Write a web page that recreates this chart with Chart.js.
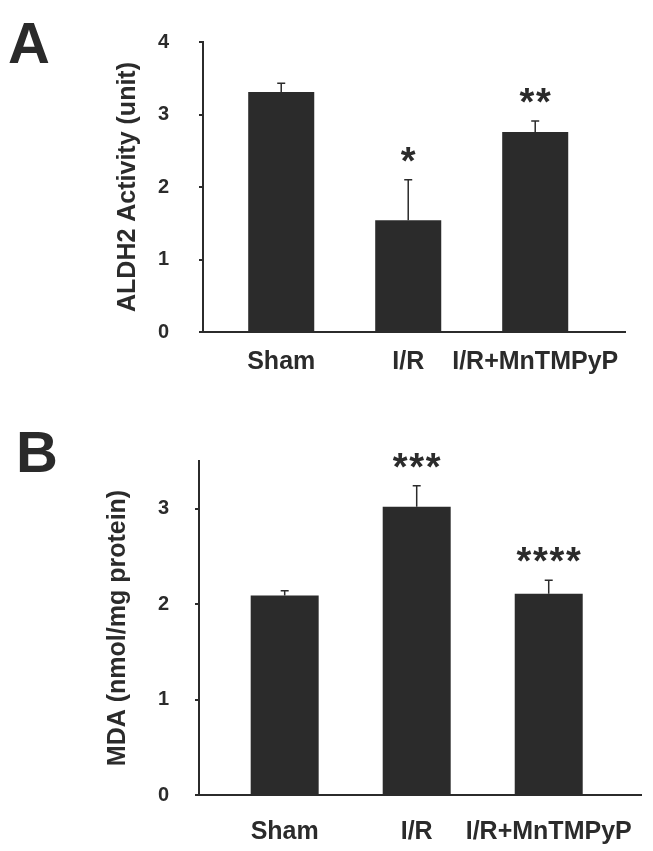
<!DOCTYPE html>
<html>
<head>
<meta charset="utf-8">
<script src="https://cdn.jsdelivr.net/npm/chart.js@4.4.1/dist/chart.umd.min.js"></script>
<style>
  html, body { margin: 0; padding: 0; background: #fff; }
  body { width: 653px; height: 851px; position: relative; overflow: hidden; font-family: 'Liberation Sans', Arial, sans-serif; }
  .panel { position: absolute; left: 0; width: 653px; }
  .letter { position: absolute; font-weight: bold; font-size: 58px; line-height: 1; color: #2a2a2a; }
</style>
</head>
<body>
<div class="letter" style="left:8px;top:14px">A</div>
<div class="letter" style="left:16px;top:423px">B</div>
<div class="panel" style="top:0;height:400px"><canvas id="chartA" width="653" height="400"></canvas></div>
<div class="panel" style="top:420px;height:431px"><canvas id="chartB" width="653" height="431"></canvas></div>
<script>
const categories = ['Sham', 'I/R', 'I/R+MnTMPyP'];

// panel A - ALDH2 activity
const aldh2Values = [3.31, 1.54, 2.76];
const aldh2Errors = [0.12, 0.56, 0.15];
const aldh2Marks = ['', '*', '**'];
const aldh2Max = 4;

// panel B - MDA
const mdaValues = [2.09, 3.02, 2.11];
const mdaErrors = [0.05, 0.22, 0.14];
const mdaMarks = ['', '***', '****'];
const mdaMax = 3.5;

const ink = '#2b2b2b';
const fontFamily = "'Liberation Sans', Arial, sans-serif";

// error bars (upper only) + significance stars
const errorBarPlugin = {
  id: 'errorBars',
  afterDatasetsDraw(chart, args, opts) {
    const ctx = chart.ctx;
    const yScale = chart.scales.y;
    const meta = chart.getDatasetMeta(0);
    ctx.save();
    ctx.strokeStyle = ink;
    ctx.fillStyle = ink;
    ctx.lineWidth = 1.5;
    meta.data.forEach((bar, i) => {
      const v = opts.values[i];
      const top = yScale.getPixelForValue(v + opts.errors[i]);
      const base = yScale.getPixelForValue(v);
      ctx.beginPath();
      ctx.moveTo(bar.x, base);
      ctx.lineTo(bar.x, top);
      ctx.moveTo(bar.x - 4, top);
      ctx.lineTo(bar.x + 4, top);
      ctx.stroke();

      const stars = opts.marks[i];
      if (stars) {
        ctx.font = 'bold 38px ' + fontFamily;
        ctx.textAlign = 'center';
        ctx.textBaseline = 'alphabetic';
        const n = stars.length;
        for (let k = 0; k < n; k++) {
          ctx.fillText('*', bar.x + (k - (n - 1) / 2) * 16.5, top - 6);
        }
      }
    });
    ctx.restore();
  }
};

function makeChart(id, cfg) {
  return new Chart(document.getElementById(id), {
    type: 'bar',
    data: {
      datasets: [{
        data: cfg.values.map((v, i) => ({ x: i + 1, y: v })),
        backgroundColor: ink,
        borderWidth: 0,
        categoryPercentage: 1,
        barPercentage: cfg.barPct
      }]
    },
    options: {
      responsive: false,
      animation: false,
      devicePixelRatio: 1,
      layout: { padding: cfg.padding },
      plugins: {
        legend: { display: false },
        tooltip: { enabled: false },
        errorBars: { values: cfg.values, errors: cfg.errors, marks: cfg.marks }
      },
      scales: {
        x: {
          type: 'linear',
          offset: false,
          min: cfg.xMin,
          max: cfg.xMax,
          afterFit: s => { s.height = cfg.xHeight; },
          grid: { display: false },
          border: { display: true, color: ink, width: 2 },
          ticks: {
            stepSize: 1,
            includeBounds: false,
            autoSkip: false,
            maxRotation: 0,
            padding: cfg.xPad,
            color: ink,
            font: { family: fontFamily, size: 25, weight: 'bold' },
            callback: v => (Number.isInteger(v) && categories[v - 1]) ? categories[v - 1] : ''
          }
        },
        y: {
          min: 0,
          max: cfg.yMax,
          afterFit: s => { s.width = cfg.yWidth; },
          grid: { drawOnChartArea: false, drawTicks: true, tickLength: 4, color: ink, lineWidth: 2 },
          border: { display: true, color: ink, width: 2 },
          ticks: {
            stepSize: 1,
            includeBounds: false,
            padding: cfg.yPad,
            color: ink,
            font: { family: fontFamily, size: 20, weight: 'bold' }
          },
          title: {
            display: true,
            text: cfg.yTitle,
            color: ink,
            padding: { top: cfg.titlePad, bottom: 0 },
            font: { family: fontFamily, size: 25, weight: 'bold' }
          }
        }
      }
    },
    plugins: [errorBarPlugin]
  });
}

makeChart('chartA', {
  values: aldh2Values, errors: aldh2Errors, marks: aldh2Marks,
  yMax: aldh2Max, yTitle: 'ALDH2 Activity (unit)',
  xMin: 0.384, xMax: 3.707, barPct: 0.52,
  padding: { left: 0, right: 28, top: 38, bottom: 0 },
  xHeight: 68, yWidth: 203, xPad: 7, yPad: 30, titlePad: 113
});

makeChart('chartB', {
  values: mdaValues, errors: mdaErrors, marks: mdaMarks,
  yMax: mdaMax, yTitle: 'MDA (nmol/mg protein)',
  xMin: 0.351, xMax: 3.699, barPct: 0.515,
  padding: { left: 0, right: 12, top: 41, bottom: 0 },
  xHeight: 56, yWidth: 199, xPad: 14, yPad: 26, titlePad: 103
});
</script>
</body>
</html>
